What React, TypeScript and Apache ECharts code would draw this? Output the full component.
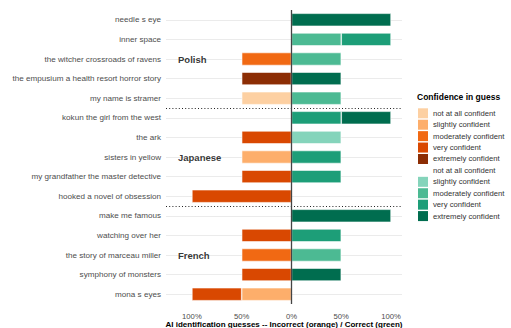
import React, { useEffect, useRef } from 'react';
import * as echarts from 'echarts';

const categories = [
  'needle s eye',
  'inner space',
  'the witcher crossroads of ravens',
  'the empusium a health resort horror story',
  'my name is stramer',
  'kokun the girl from the west',
  'the ark',
  'sisters in yellow',
  'my grandfather the master detective',
  'hooked a novel of obsession',
  'make me famous',
  'watching over her',
  'the story of marceau miller',
  'symphony of monsters',
  'mona s eyes',
];

const levels = [
  'not at all confident',
  'slightly confident',
  'moderately confident',
  'very confident',
  'extremely confident',
];

const orangeColors = ['#fdd0a2', '#fdae6b', '#f16913', '#d94801', '#8c2d04'];
const greenColors = ['#ffffff', '#85d4bb', '#4cba93', '#1d9e78', '#006d4f'];

// Incorrect guesses (% of guesses), per confidence level
const incorrectNotAtAll = [0, 0, 0, 0, 50, 0, 0, 0, 0, 0, 0, 0, 0, 0, 0];
const incorrectSlightly = [0, 0, 0, 0, 0, 0, 0, 50, 0, 0, 0, 0, 0, 0, 50];
const incorrectModerately = [0, 0, 50, 0, 0, 0, 0, 0, 0, 0, 0, 0, 50, 0, 0];
const incorrectVery = [0, 0, 0, 0, 0, 0, 50, 0, 50, 100, 0, 50, 0, 50, 50];
const incorrectExtremely = [0, 0, 0, 50, 0, 0, 0, 0, 0, 0, 0, 0, 0, 0, 0];

// Correct guesses (% of guesses), per confidence level
const correctNotAtAll = [0, 0, 0, 0, 0, 0, 0, 0, 0, 0, 0, 0, 0, 0, 0];
const correctSlightly = [0, 0, 0, 0, 0, 0, 50, 0, 0, 0, 0, 0, 0, 0, 0];
const correctModerately = [0, 50, 50, 0, 50, 0, 0, 0, 0, 0, 0, 0, 50, 0, 0];
const correctVery = [0, 50, 0, 0, 0, 50, 0, 50, 50, 0, 0, 50, 0, 0, 0];
const correctExtremely = [100, 0, 0, 50, 0, 50, 0, 0, 0, 0, 100, 0, 0, 50, 0];

const groupLabels = ['Polish', 'Japanese', 'French'];
const groupLabelRows = [
  'the witcher crossroads of ravens',
  'sisters in yellow',
  'the story of marceau miller',
];
const groupBoundaries = [5, 10];
const xTickValues = [-100, -50, 0, 50, 100];

const incorrect = [incorrectNotAtAll, incorrectSlightly, incorrectModerately, incorrectVery, incorrectExtremely];
const correct = [correctNotAtAll, correctSlightly, correctModerately, correctVery, correctExtremely];

export default function App() {
  const ref = useRef<HTMLDivElement>(null);
  useEffect(() => {
    const chart = echarts.init(ref.current!, null, { renderer: 'svg' });
    const font = 'Liberation Sans';
    const barCommon = {
      type: 'bar',
      stack: 'guesses',
      xAxisIndex: 0,
      yAxisIndex: 0,
      barWidth: 13,
      z: 2,
      silent: true,
    };
    const incorrectSeries = levels.map((lv, i) => ({
      ...barCommon,
      name: 'Incorrect ' + lv,
      data: incorrect[i].map((v) => (v ? -v : null)),
      itemStyle: { color: orangeColors[i], borderColor: '#ffffff', borderWidth: 0.6 },
    }));
    const correctSeries = levels.map((lv, i) => ({
      ...barCommon,
      name: 'Correct ' + lv,
      data: correct[i].map((v) => (v ? v : null)),
      itemStyle: { color: greenColors[i], borderColor: '#ffffff', borderWidth: 0.6 },
    }));

    const legendItems = [
      ...levels.map((lv, i) => ({ label: lv, color: orangeColors[i] })),
      ...levels.map((lv, i) => ({ label: lv, color: greenColors[i] })),
    ];
    const legendGraphics: any[] = [
      {
        type: 'text',
        x: 417,
        y: 97,
        style: {
          text: 'Confidence in guess',
          fontFamily: font,
          fontWeight: 'bold',
          fontSize: 8.5,
          fill: '#000',
          verticalAlign: 'middle',
        },
      },
    ];
    legendItems.forEach((it, i) => {
      const cy = 113.3 + i * 11.42;
      legendGraphics.push({
        type: 'rect',
        shape: { x: 418, y: cy - 5, width: 10, height: 10 },
        style: { fill: it.color },
      });
      legendGraphics.push({
        type: 'text',
        x: 433,
        y: cy,
        style: {
          text: it.label,
          fontFamily: font,
          fontSize: 7.7,
          fill: '#333',
          verticalAlign: 'middle',
        },
      });
    });

    const option: any = {
      animation: false,
      textStyle: { fontFamily: font },
      grid: { left: 166, right: 109, top: 10, bottom: 24, outerBoundsMode: 'none' },
      xAxis: {
        type: 'value',
        min: -126,
        max: 111,
        axisLine: { show: false },
        axisTick: { show: false },
        splitLine: { show: false },
        axisLabel: {
          customValues: xTickValues,
          formatter: (v: number) => Math.abs(v) + '%',
          fontSize: 7.7,
          color: '#4d4d4d',
          margin: 8,
        },
        name: 'AI identification guesses -- Incorrect (orange) / Correct (green)',
        nameLocation: 'middle',
        nameGap: 16,
        nameMoveOverlap: false,
        nameTextStyle: { fontWeight: 'bold', fontSize: 8, color: '#000', fontFamily: font },
      },
      yAxis: [
        {
          type: 'category',
          data: categories,
          inverse: true,
          axisLine: { show: false },
          axisTick: { show: false },
          splitLine: { show: false },
          axisLabel: { fontSize: 8.1, color: '#4d4d4d', margin: 5 },
        },
        {
          type: 'value',
          min: 0,
          max: categories.length,
          inverse: true,
          show: false,
        },
      ],
      graphic: legendGraphics,
      series: [
        {
          type: 'scatter',
          xAxisIndex: 0,
          yAxisIndex: 1,
          data: [[0, 0]],
          symbolSize: 0,
          silent: true,
          z: 1,
          markLine: {
            z: 1,
            silent: true,
            symbol: ['none', 'none'],
            label: { show: false },
            animation: false,
            data: [
              ...categories.map((_, i) => ({
                yAxis: i + 0.5,
                lineStyle: { color: '#ebebeb', width: 1, type: 'solid' },
              })),
              ...groupBoundaries.map((b) => ({
                yAxis: b,
                lineStyle: { color: '#222', width: 1, type: [1, 2.2] },
              })),
            ],
          },
        },
        ...incorrectSeries,
        ...correctSeries,
        {
          type: 'scatter',
          xAxisIndex: 0,
          yAxisIndex: 1,
          data: [[0, 0]],
          symbolSize: 0,
          silent: true,
          z: 5,
          markLine: {
            z: 5,
            silent: true,
            symbol: ['none', 'none'],
            label: { show: false },
            animation: false,
            data: [{ xAxis: 0, lineStyle: { color: '#444', width: 1.3, type: 'solid' } }],
          },
        },
        {
          type: 'scatter',
          xAxisIndex: 0,
          yAxisIndex: 0,
          symbolSize: 0.1,
          itemStyle: { color: 'rgba(0,0,0,0)' },
          silent: true,
          z: 6,
          data: groupLabels.map((g, i) => ({ name: g, value: [-114, groupLabelRows[i]] })),
          label: {
            show: true,
            position: 'right',
            distance: 0,
            formatter: '{b}',
            fontWeight: 'bold',
            fontSize: 9.5,
            color: '#000',
            fontFamily: font,
          },
        },
      ],
    };
    chart.setOption(option);
    return () => chart.dispose();
  }, []);
  return (
    <div
      ref={ref}
      style={{ position: 'absolute', left: 0, top: 0, width: 511, height: 328 }}
    />
  );
}
